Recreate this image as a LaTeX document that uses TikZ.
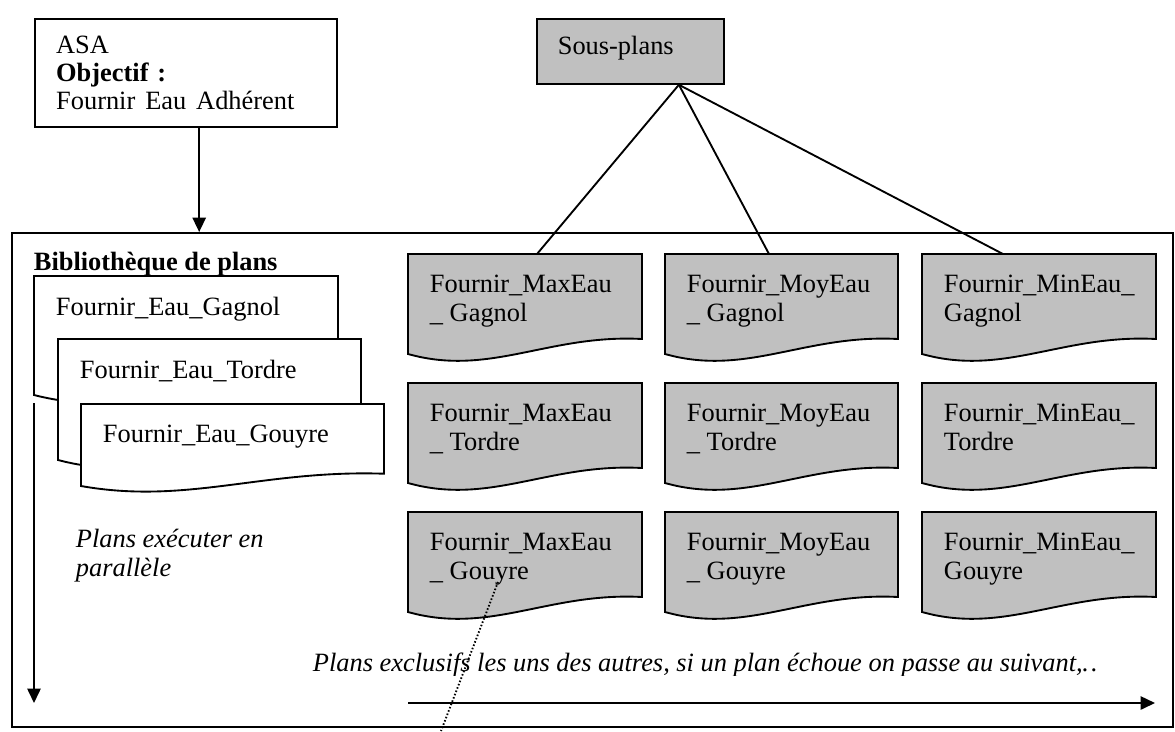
\documentclass[tikz,border=0pt]{standalone}
\usepackage{fontspec}
\setmainfont{Liberation Serif}
\usepackage{tikz}
\usetikzlibrary{arrows.meta,calc}
\definecolor{plangray}{RGB}{192,192,192}
\tikzset{
    >={Triangle[length=6.5pt,width=6pt]},
    box/.style={rectangle, draw, align=left, anchor=north west, inner xsep=9.5pt},
    doctext/.style={anchor=north west, inner sep=0pt, align=left},
    docline/.style={draw, line join=miter},
    note/.style={font=\fontsize{12}{13.2}\selectfont\itshape, inner sep=0pt, align=left}
}
\newcommand{\plandoc}[7]{% name, x, y, width, height, fill, text
    \filldraw[docline, fill=#6] (#2,#3) -- ({#2+#4},#3) -- ({#2+#4},{#3+0.85*#5})
        .. controls ({#2+0.6*#4},{#3+0.8*#5}) and ({#2+0.35*#4},{#3+1.23*#5}) .. (#2,{#3+#5}) -- cycle;
    \coordinate (#1) at (#2,#3);
    \node[doctext] (#1-txt) at ({#2+21},{#3+20}) {#7};
}

\begin{document}
\begin{tikzpicture}[x=0.4545pt, y=-0.4545pt, line width=0.85pt, font=\fontsize{12}{13.2}\selectfont]
    \useasboundingbox (0,0) rectangle (1175,731);
    \node[box, minimum width=137.3pt, minimum height=49.1pt, text width=118pt, font=\fontsize{12}{12.7}\selectfont] (asa) at (34,18)
        {ASA\\\textbf{Objectif :}\\Fournir\hspace{4.5pt}Eau\hspace{4.5pt}Adhérent};
    \node[box, fill=plangray, minimum width=85pt, minimum height=29.5pt, text width=66pt, text height=8pt, text depth=5pt] (sous) at (536,18) {Sous-plans};
    \node[draw, rectangle, anchor=north west, minimum width=527.7pt, minimum height=224.5pt] (lib) at (11,232) {};
    \draw[->] ([xshift=6pt]asa.south) -- ([xshift=6pt]asa.south |- lib.north);

    \node[anchor=base west, inner sep=0pt, font=\fontsize{12}{13.2}\selectfont\bfseries] (libtitle) at (33,270) {Bibliothèque de plans};
    \plandoc{eaug}{34}{276}{304}{119}{white}{Fournir\_Eau\_Gagnol}
    \plandoc{eaut}{58}{339}{303}{121}{white}{Fournir\_Eau\_Tordre}
    \plandoc{eauy}{81}{404}{303}{82}{white}{Fournir\_Eau\_Gouyre}

    \plandoc{maxg}{408}{254}{234}{100}{plangray}{Fournir\_MaxEau\\\_ Gagnol}
    \plandoc{moyg}{665}{254}{233}{100}{plangray}{Fournir\_MoyEau\\\_ Gagnol}
    \plandoc{ming}{922}{254}{234}{100}{plangray}{Fournir\_MinEau\_\\Gagnol}
    \plandoc{maxt}{408}{383}{234}{100}{plangray}{Fournir\_MaxEau\\\_ Tordre}
    \plandoc{moyt}{665}{383}{233}{100}{plangray}{Fournir\_MoyEau\\\_ Tordre}
    \plandoc{mint}{922}{383}{234}{100}{plangray}{Fournir\_MinEau\_\\Tordre}
    \plandoc{maxy}{408}{512}{234}{100}{plangray}{Fournir\_MaxEau\\\_ Gouyre}
    \plandoc{moyy}{665}{512}{233}{100}{plangray}{Fournir\_MoyEau\\\_ Gouyre}
    \plandoc{miny}{922}{512}{234}{100}{plangray}{Fournir\_MinEau\_\\Gouyre}

    \coordinate (fork) at ($(sous.south east)+(-46,0)$);
    \draw (fork) -- ($(maxg)+(129,0)$);
    \draw (fork) -- ($(moyg)+(104,0)$);
    \draw (fork) -- ($(ming)+(81,0)$);

    \coordinate (parstart) at (34,403);
    \coordinate (parend) at (34,703);
    \draw[->] (parstart) -- (parend);
    \node[note, anchor=north west] (partxt) at (75,528) {Plans exécuter en\\parallèle};

    \begin{scope}
        \clip (300,630) rectangle (1100,675);
        \node[note, anchor=base west] (seqtxt) at (312,671) {Plans exclusifs les uns des autres, si un plan échoue on passe au suivant,…};
    \end{scope}
    \coordinate (seqstart) at (408,703);
    \coordinate (seqend) at (1155,703);
    \draw[->] (seqstart) -- (seqend);

    \coordinate (refa) at (498,582);
    \coordinate (refb) at (441,731);
    \draw[dash pattern=on 0.7pt off 0.9pt] (refa) -- (refb);
\end{tikzpicture}
\end{document}
